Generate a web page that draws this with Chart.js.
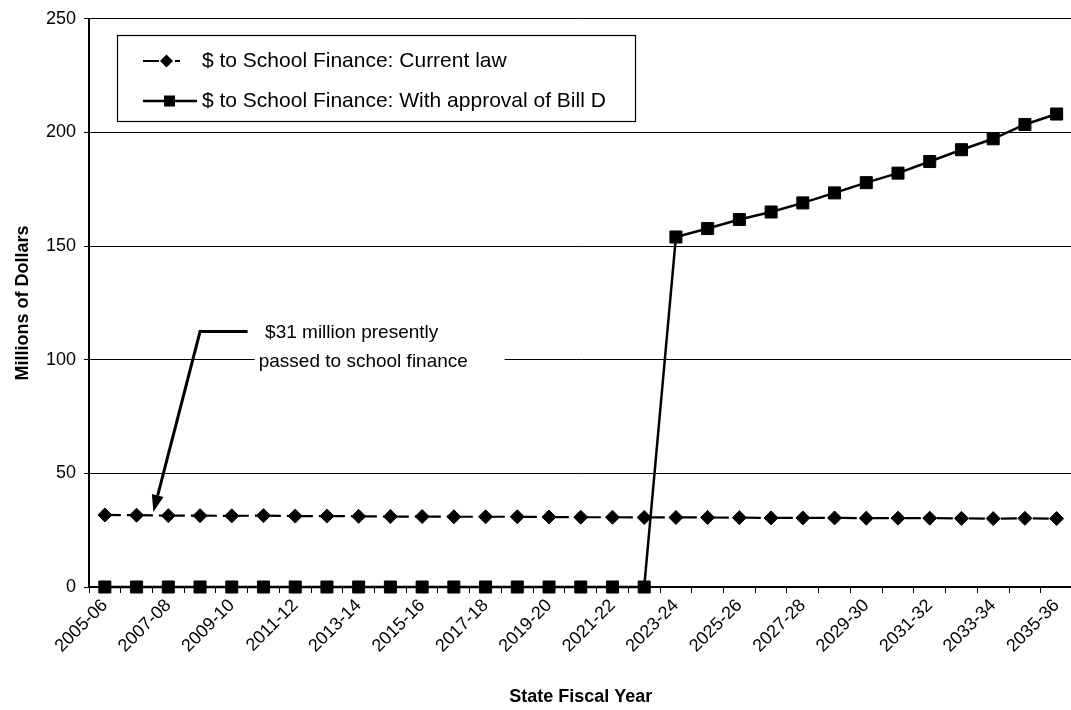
<!DOCTYPE html>
<html>
<head>
<meta charset="utf-8">
<script src="https://cdn.jsdelivr.net/npm/chart.js@4.4.0/dist/chart.umd.min.js"></script>
<style>
  html, body { margin: 0; padding: 0; background: #fff; overflow: hidden; }
  #wrap { width: 1082px; height: 710px; }
</style>
</head>
<body>
<div id="wrap"><canvas id="lineChart" width="1082" height="710"></canvas></div>
<script>
var years = ['2005-06', '2006-07', '2007-08', '2008-09', '2009-10', '2010-11', '2011-12', '2012-13',
  '2013-14', '2014-15', '2015-16', '2016-17', '2017-18', '2018-19', '2019-20', '2020-21', '2021-22',
  '2022-23', '2023-24', '2024-25', '2025-26', '2026-27', '2027-28', '2028-29', '2029-30', '2030-31',
  '2031-32', '2032-33', '2033-34', '2034-35', '2035-36'];
var currentLaw = [31.7, 31.6, 31.4, 31.4, 31.3, 31.4, 31.2, 31.2, 31.1, 31.0, 31.0, 30.9, 30.9, 30.9, 30.8, 30.7,
  30.7, 30.6, 30.6, 30.6, 30.5, 30.4, 30.4, 30.4, 30.3, 30.3, 30.3, 30.2, 30.1, 30.2, 30.1];
var billD = [0, 0, 0, 0, 0, 0, 0, 0, 0, 0, 0, 0, 0, 0, 0, 0, 0, 0,
  154.0, 157.7, 161.7, 165.0, 169.0, 173.4, 177.9, 182.1, 187.2, 192.4, 197.2, 203.5, 208.1];
var seriesNames = ['$ to School Finance: Current law', '$ to School Finance: With approval of Bill D'];
var noteLines = ['$31 million presently', 'passed to school finance'];

Chart.defaults.font.family = "'Liberation Sans', Arial, sans-serif";
Chart.defaults.color = '#000';

// legend box drawn inside the plot, like the original
var boxLegend = {
  id: 'boxLegend',
  afterDraw: function(chart) {
    var ctx = chart.ctx;
    ctx.save();
    ctx.strokeStyle = '#000';
    ctx.lineWidth = 1.2;
    ctx.strokeRect(117.5, 35.5, 518, 86);
    ctx.fillStyle = '#000';
    ctx.lineWidth = 2;
    // row 1 : dash-dot key with diamond
    ctx.beginPath();
    ctx.moveTo(143, 61); ctx.lineTo(159, 61);
    ctx.moveTo(175, 61); ctx.lineTo(180, 61);
    ctx.stroke();
    ctx.beginPath();
    ctx.moveTo(160, 61); ctx.lineTo(166.5, 54.5); ctx.lineTo(173, 61); ctx.lineTo(166.5, 67.5);
    ctx.closePath(); ctx.fill();
    // row 2 : solid key with square
    ctx.lineWidth = 2.5;
    ctx.beginPath();
    ctx.moveTo(143, 101); ctx.lineTo(197, 101);
    ctx.stroke();
    ctx.fillRect(164, 95.5, 11, 11);
    ctx.font = "21px 'Liberation Sans', Arial, sans-serif";
    ctx.textBaseline = 'middle';
    ctx.textAlign = 'left';
    ctx.fillText(seriesNames[0], 202, 61);
    ctx.fillText(seriesNames[1], 202, 101);
    ctx.restore();
  }
};

// "$31 million" callout with arrow
var callout = {
  id: 'callout',
  beforeDatasetsDraw: function(chart) {
    var x = chart.scales.x, y = chart.scales.y, ctx = chart.ctx;
    ctx.save();
    var bx0 = x.getPixelForValue(4.72), bx1 = x.getPixelForValue(12.6);
    var by0 = y.getPixelForValue(117.5), by1 = y.getPixelForValue(94);
    ctx.fillStyle = '#fff';
    ctx.fillRect(bx0, by0, bx1 - bx0, by1 - by0);
    ctx.fillStyle = '#000';
    ctx.font = "19px 'Liberation Sans', Arial, sans-serif";
    ctx.textBaseline = 'middle';
    ctx.fillText(noteLines[0], x.getPixelForValue(5.05), y.getPixelForValue(112));
    ctx.fillText(noteLines[1], x.getPixelForValue(4.85), y.getPixelForValue(99.3));

    var ax = x.getPixelForValue(4.5), ay = y.getPixelForValue(112.4);
    var ex = x.getPixelForValue(3.0), ey = ay;
    var tx = x.getPixelForValue(1.53), ty = y.getPixelForValue(33);
    var dx = tx - ex, dy = ty - ey, len = Math.sqrt(dx * dx + dy * dy);
    var ux = dx / len, uy = dy / len, head = 17, half = 6;
    var bx = tx - ux * head, by = ty - uy * head;
    ctx.strokeStyle = '#000';
    ctx.lineWidth = 3;
    ctx.beginPath();
    ctx.moveTo(ax, ay); ctx.lineTo(ex, ey); ctx.lineTo(bx, by);
    ctx.stroke();
    ctx.beginPath();
    ctx.moveTo(tx, ty);
    ctx.lineTo(bx - uy * half, by + ux * half);
    ctx.lineTo(bx + uy * half, by - ux * half);
    ctx.closePath();
    ctx.fill();
    ctx.restore();
  }
};

var ctxL = document.getElementById('lineChart').getContext('2d');
var myLineChart = new Chart(ctxL, {
  type: 'line',
  data: {
    labels: years,
    datasets: [{
      label: seriesNames[0],
      data: currentLaw,
      borderColor: '#000',
      backgroundColor: '#000',
      borderWidth: 2.2,
      borderDash: [16, 6, 4, 6],
      pointStyle: 'rectRot',
      pointRadius: 7,
      pointBorderWidth: 1,
      tension: 0,
      clip: false
    }, {
      label: seriesNames[1],
      data: billD,
      borderColor: '#000',
      backgroundColor: '#000',
      borderWidth: 2.5,
      pointStyle: 'rect',
      pointRadius: 8.5,
      pointBorderWidth: 1,
      tension: 0,
      clip: false
    }]
  },
  options: {
    responsive: false,
    animation: false,
    devicePixelRatio: 1,
    layout: { padding: { top: 16, right: 1, left: 0, bottom: 0 } },
    plugins: {
      legend: { display: false },
      tooltip: { enabled: false }
    },
    scales: {
      x: {
        offset: true,
        grid: { display: true, offset: true, drawOnChartArea: false, drawTicks: true, tickLength: 6, color: '#000', lineWidth: 1 },
        border: { display: true, color: '#000', width: 2 },
        ticks: {
          autoSkip: false,
          maxRotation: 45,
          minRotation: 45,
          padding: 2,
          font: { size: 18 },
          callback: function(v, i) { return i % 2 === 0 ? this.getLabelForValue(v) : ''; }
        },
        title: { display: true, text: 'State Fiscal Year', font: { size: 18, weight: 'bold' }, padding: { top: 0, bottom: 2 } },
        afterFit: function(scale) { scale.height = 123; }
      },
      y: {
        min: 0,
        max: 250,
        ticks: { stepSize: 50, padding: 8, font: { size: 18 } },
        grid: { color: '#000', lineWidth: 1, tickLength: 5, drawTicks: true },
        border: { display: true, color: '#000', width: 2 },
        title: { display: true, text: 'Millions of Dollars', font: { size: 18, weight: 'bold' }, padding: { top: 12, bottom: 0 } },
        afterFit: function(scale) { scale.width = 89; }
      }
    }
  },
  plugins: [callout, boxLegend]
});
</script>
</body>
</html>
